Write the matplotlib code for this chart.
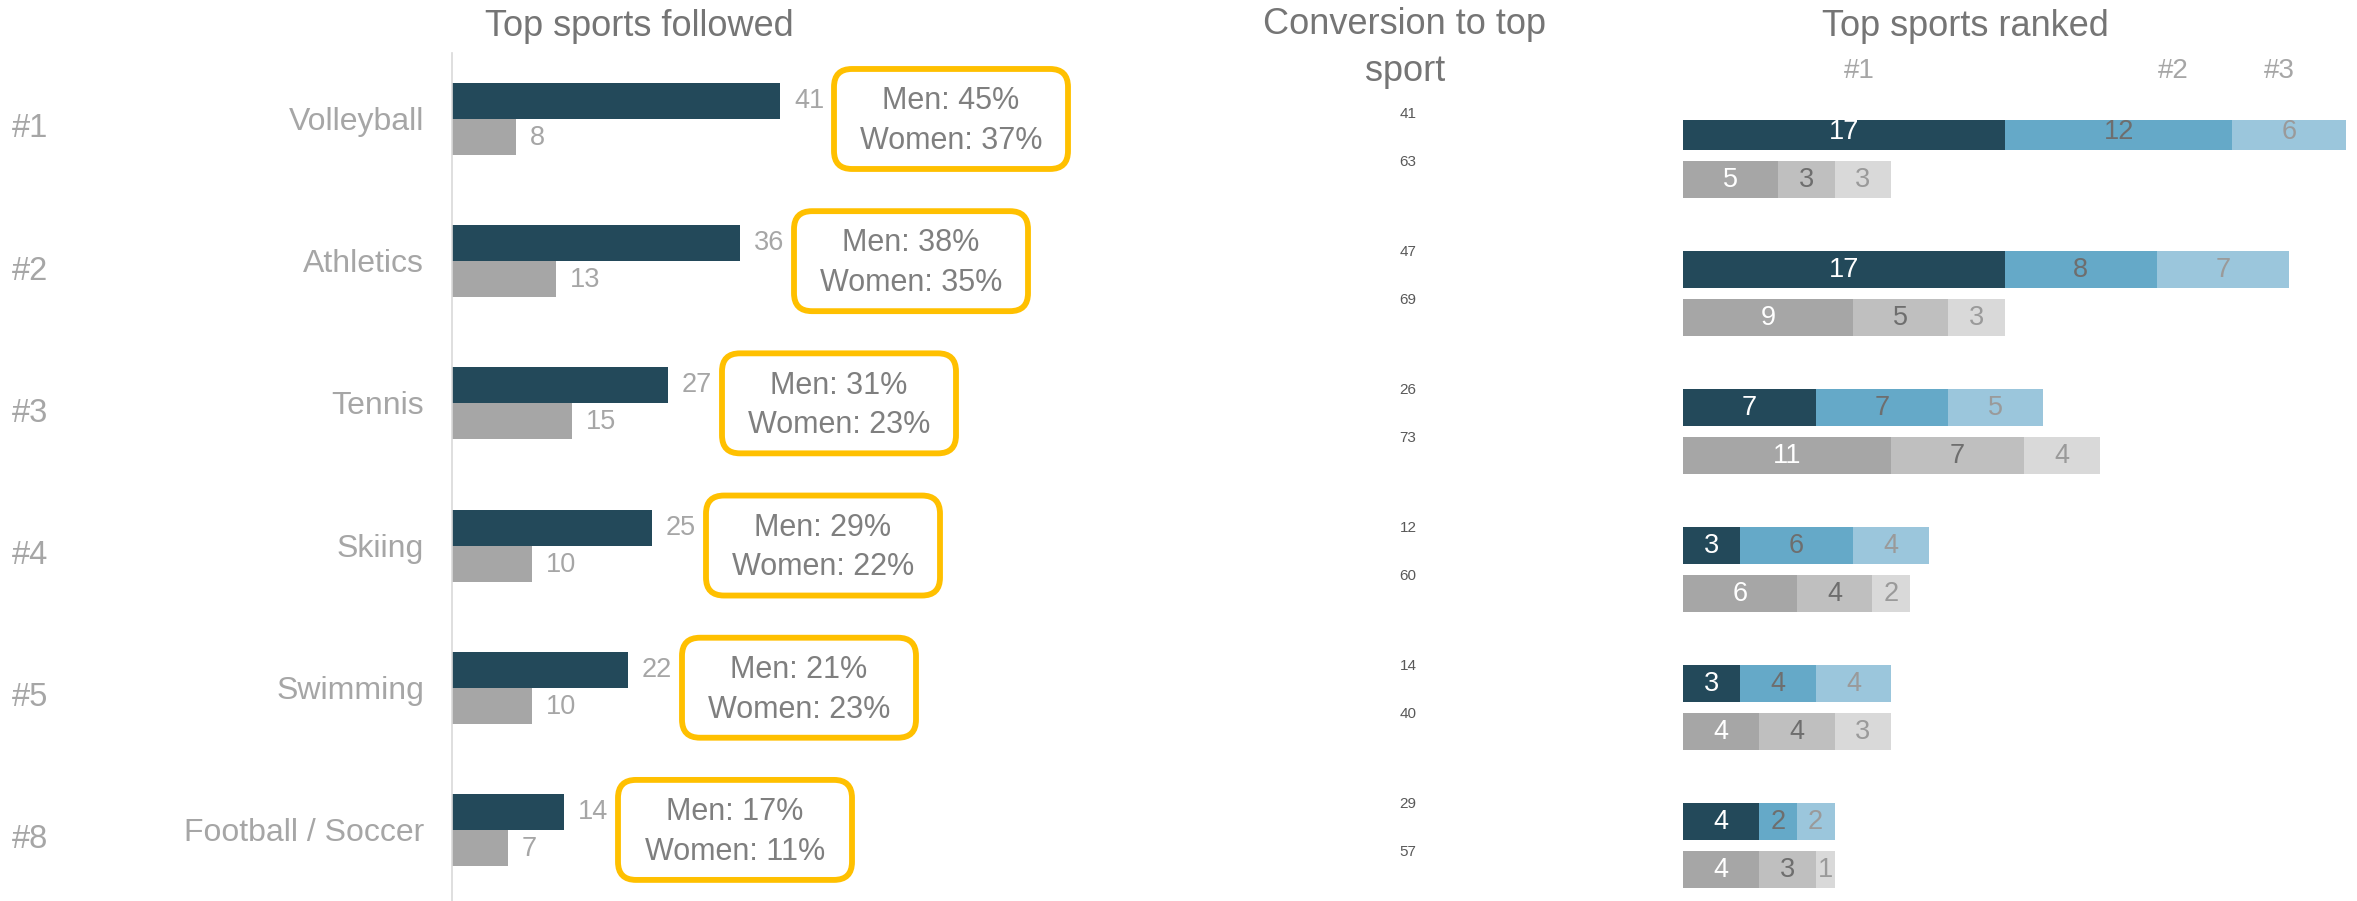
import matplotlib
matplotlib.use("Agg")
import numpy as np
import matplotlib.pyplot as plt
import matplotlib.transforms as mtransforms
from matplotlib.patches import FancyBboxPatch

plt.rcParams["font.family"] = ["Liberation Sans", "DejaVu Sans"]

# ---- data ----
sports = ["Volleyball", "Athletics", "Tennis", "Skiing", "Swimming", "Football / Soccer"]
overall_rank = ["#1", "#2", "#3", "#4", "#5", "#8"]
men_followed = [41, 36, 27, 25, 22, 14]
women_followed = [8, 13, 15, 10, 10, 7]
men_pct = [45, 38, 31, 29, 21, 17]
women_pct = [37, 35, 23, 22, 23, 11]
conv_men = [41, 47, 26, 12, 14, 29]
conv_women = [63, 69, 73, 60, 40, 57]
men_ranked = [[17, 12, 6], [17, 8, 7], [7, 7, 5], [3, 6, 4], [3, 4, 4], [4, 2, 2]]
women_ranked = [[5, 3, 3], [9, 5, 3], [11, 7, 4], [6, 4, 2], [4, 4, 3], [4, 3, 1]]
rank_headers = ["#1", "#2", "#3"]
rank_header_x = [9.3, 25.9, 31.5]

# ---- styling ----
DARK = "#23495A"
GREY = "#A6A6A6"
MEN_SHADES = [DARK, "#65A9C8", "#9BC6DC"]
WOMEN_SHADES = [GREY, "#BFBFBF", "#D9D9D9"]
SEG_TEXT = ["white", "#6E6E6E", "#9A9A9A"]
TITLE_C = "#757575"
LABEL_C = "#A6A6A6"
BOX_EDGE = "#FFC000"

W, H, DPI = 2357, 901, 100
fig = plt.figure(figsize=(W / DPI, H / DPI), dpi=DPI)

# ---- left panel: sports followed ----
ax1 = fig.add_axes([452 / W, 0, 640 / W, 848 / H])
ax1.set_xlim(0, 80)
ax1.set_ylim(5.5, -0.464)
for s in ["top", "right", "bottom"]:
    ax1.spines[s].set_visible(False)
ax1.spines["left"].set_color("#D9D9D9")
ax1.spines["left"].set_linewidth(1.2)
ax1.set_xticks([])
ax1.set_yticks([])

rows = np.arange(len(sports))
bh = 0.253
ax1.barh(rows - bh / 2, men_followed, height=bh, color=DARK)
ax1.barh(rows + bh / 2, women_followed, height=bh, color=GREY)

for i in rows:
    ax1.annotate(str(men_followed[i]), xy=(men_followed[i], i - bh / 2),
                 xytext=(14, 0), textcoords="offset pixels",
                 ha="left", va="center", fontsize=19.5, color=LABEL_C)
    ax1.annotate(str(women_followed[i]), xy=(women_followed[i], i + bh / 2),
                 xytext=(14, -1), textcoords="offset pixels",
                 ha="left", va="center", fontsize=19.5, color=LABEL_C)
    ax1.annotate(sports[i], xy=(0, i), xytext=(-28, -3), textcoords="offset pixels",
                 ha="right", va="center", fontsize=23, color=LABEL_C)
    ax1.annotate(overall_rank[i], xy=(12 / W, i), xycoords=("figure fraction", "data"),
                 xytext=(0, -10), textcoords="offset pixels",
                 ha="left", va="center", fontsize=23.5, color=LABEL_C)

    # rounded callout box placed in pixels relative to the bar end
    anchor = mtransforms.ScaledTranslation(men_followed[i], i, ax1.transData)
    box = FancyBboxPatch((54, -50), 234, 100,
                         boxstyle="round,pad=0,rounding_size=18",
                         transform=mtransforms.Affine2D() + anchor,
                         facecolor="white", edgecolor=BOX_EDGE, linewidth=4.2,
                         clip_on=False)
    ax1.add_artist(box)
    ax1.annotate(f"Men: {men_pct[i]}%\nWomen: {women_pct[i]}%",
                 xy=(men_followed[i], i), xytext=(54 + 117, -2),
                 textcoords="offset pixels", ha="center", va="center",
                 multialignment="center", linespacing=1.42,
                 fontsize=22, color="#7F7F7F")

# ---- right panel: ranked ----
ax2 = fig.add_axes([1683 / W, 0, 663 / W, 781 / H])
ax2.set_xlim(0, 35)
ax2.set_ylim(5.402, -0.258)
ax2.axis("off")

rh = 0.272
roff = 0.174
for i in rows:
    for vals, shades, yc in ((men_ranked[i], MEN_SHADES, i - roff),
                             (women_ranked[i], WOMEN_SHADES, i + roff)):
        lefts = np.concatenate([[0], np.cumsum(vals)[:-1]])
        ax2.barh(yc, vals, left=lefts, height=rh, color=shades)
        for k, (v, l) in enumerate(zip(vals, lefts)):
            ax2.text(l + v / 2, yc, str(v), ha="center", va="center",
                     fontsize=19.5, color=SEG_TEXT[k])

    ax2.annotate(str(conv_men[i]), xy=(1408 / W, i - roff),
                 xycoords=("figure fraction", "data"), xytext=(0, 18),
                 textcoords="offset pixels", ha="center", va="center",
                 fontsize=11, color="#595959")
    ax2.annotate(str(conv_women[i]), xy=(1408 / W, i + roff),
                 xycoords=("figure fraction", "data"), xytext=(0, 18),
                 textcoords="offset pixels", ha="center", va="center",
                 fontsize=11, color="#595959")

for lab, x in zip(rank_headers, rank_header_x):
    ax2.annotate(lab, xy=(x, 1 - 70.6 / H), xycoords=("data", "figure fraction"),
                 ha="center", va="center", fontsize=20, color=LABEL_C)

# ---- titles ----
fig.text(0.2714, 0.971, "Top sports followed", ha="center", va="center",
         fontsize=26, color=TITLE_C)
fig.text(0.596, 1 - 48 / H, "Conversion to top\nsport", ha="center", va="center",
         fontsize=26, color=TITLE_C, linespacing=1.45)
fig.text(0.834, 0.971, "Top sports ranked", ha="center", va="center",
         fontsize=26, color=TITLE_C)

fig.savefig("out.png", dpi=DPI, facecolor="white")
